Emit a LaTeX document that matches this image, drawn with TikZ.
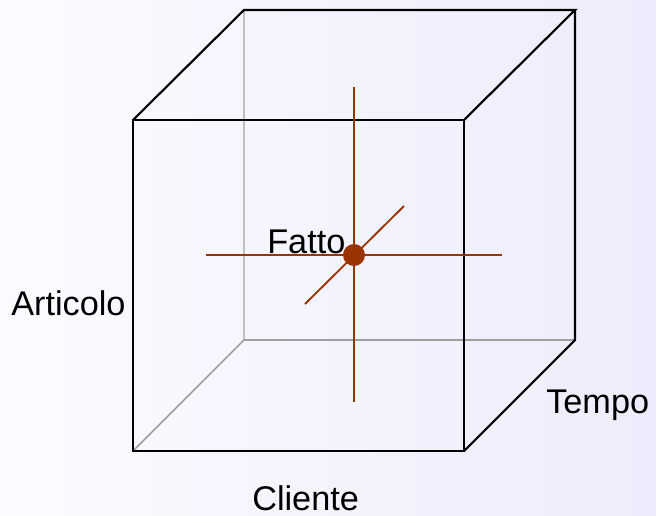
\documentclass[tikz,border=0pt]{standalone}
\usepackage{fontspec}
\setmainfont{Liberation Sans}
\begin{document}
\begin{tikzpicture}[x=0.75pt,y=-0.75pt,
  edge/.style={draw=black,line width=1.6pt,line join=miter},
  hidden/.style={draw=gray!75,line width=1.3pt},
  hiddenlight/.style={draw=gray!50,line width=1.3pt},
  axis/.style={draw=factcol,line width=1.4pt},
  lbl/.style={inner sep=0pt,anchor=base west,font=\fontsize{25.7}{30}\selectfont}]
\definecolor{factcol}{RGB}{153,51,0}
\definecolor{bgleft}{RGB}{251,251,255}
\definecolor{bgright}{RGB}{236,236,252}
\shade[left color=bgleft,right color=bgright] (0,0) rectangle (656,515);
\useasboundingbox (0,0) rectangle (656,515);
% cube corners
\coordinate (f1) at (133,120);
\coordinate (f2) at (464,120);
\coordinate (f3) at (464,451);
\coordinate (f4) at (133,451);
\coordinate (b1) at (244,10);
\coordinate (b2) at (575,10);
\coordinate (b3) at (575,340);
\coordinate (b4) at (244,340);
% hidden edges
\draw[hiddenlight] (b1) -- (b4);
\draw[hidden] (b4) -- (b3);
\draw[hidden] (b4) -- (f4);
% visible edges
\draw[edge] (f1) -- (f2) -- (f3) -- (f4) -- cycle;
\draw[edge] (f1) -- (b1) -- (b2) -- (f2);
\draw[edge] (b2) -- (b3) -- (f3);
% fact axes
\coordinate (vt) at (354,87);
\coordinate (vb) at (354,402);
\coordinate (hl) at (206,255);
\coordinate (hr) at (502,255);
\coordinate (dl) at (305,304);
\coordinate (dr) at (404,206);
\draw[axis] (vt) -- (vb);
\draw[axis] (hl) -- (hr);
\draw[axis] (dl) -- (dr);
\node[circle,fill=factcol,minimum size=16.5pt,inner sep=0pt] (fact) at (354,255) {};
% labels
\node[lbl] (fatto) at (267,253) {Fatto};
\node[lbl] (articolo) at (11,315) {Articolo};
\node[lbl] (tempo) at (546,413) {Tempo};
\node[lbl] (cliente) at (252,510) {Cliente};
\end{tikzpicture}
\end{document}
